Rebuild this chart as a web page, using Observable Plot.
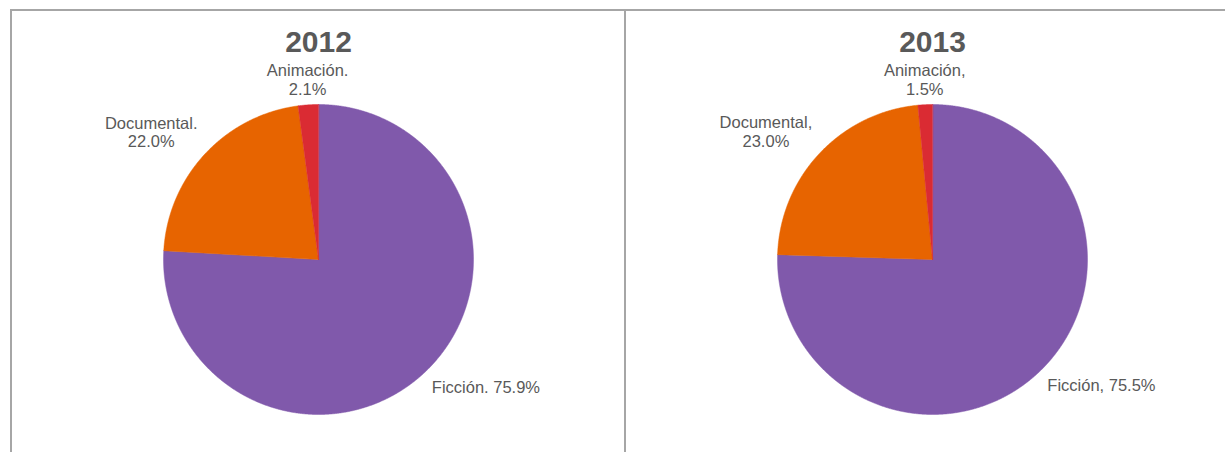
<!DOCTYPE html>
<html>
<head>
<meta charset="utf-8">
<script src="https://cdn.jsdelivr.net/npm/d3@7"></script>
<script src="https://cdn.jsdelivr.net/npm/@observablehq/plot@0.6"></script>
<style>
html, body { margin: 0; padding: 0; background: #fff; overflow: hidden; width: 1225px; height: 452px; }
#wrap { position: absolute; left: 10px; top: 9px; display: flex; border-top: 2px solid #a6a6a6; width: 1240px; height: 443px; }
.panel { width: 612px; height: 441px; border-left: 2px solid #a6a6a6; flex: none; }
.panel svg { display: block; }
</style>
</head>
<body>
<div id="wrap"></div>
<script>
// ---- data ----
const categories = ["Ficción", "Documental", "Animación"];
const years = ["2012", "2013"];
const values2012 = [75.9, 22.0, 2.1];
const values2013 = [75.5, 23.0, 1.5];
const separators2012 = ".";
const separators2013 = ",";
const colors = ["#8059ab", "#e76400", "#da2b33"];
const wrapLabel = [false, true, true];

// ---- layout ----
const W = 612, H = 441;
const CX = 306, CY = 248, R = 155, RL = 165;
const textColor = "#595959";
const font = "'Liberation Sans', Arial, sans-serif";
const labelSize = 16.5;

const ctx = document.createElement("canvas").getContext("2d");
ctx.font = `${labelSize}px ${font}`;
const textWidth = (t) => d3.max(t.split("\n"), l => ctx.measureText(l).width);

function panel(year, values, sep) {
  const rows = categories.map((c, i) => ({cat: c, value: values[i], wrap: wrapLabel[i]}));
  const arcs = d3.pie().sort(null).value(d => d.value)(rows);
  const pts = [];
  const labels = [];
  for (const a of arcs) {
    const c = a.data.cat;
    pts.push({cat: c, x: CX, y: CY});
    const steps = Math.max(2, Math.ceil((a.endAngle - a.startAngle) / (Math.PI / 720)));
    for (let k = 0; k <= steps; k++) {
      const t = a.startAngle + (a.endAngle - a.startAngle) * k / steps;
      pts.push({cat: c, x: CX + R * Math.sin(t), y: CY - R * Math.cos(t)});
    }
    const m = (a.startAngle + a.endAngle) / 2;
    const s = Math.sin(m), co = Math.cos(m);
    const text = `${c}${sep}${a.data.wrap ? "\n" : " "}${a.data.value.toFixed(1)}%`;
    const w = textWidth(text);
    const side = Math.abs(s) < 0.3 ? 0 : (s < 0 ? -1 : 1);
    labels.push({
      x: CX + RL * s + side * w / 2,
      y: CY - RL * co,
      text,
      la: co > 0 ? "bottom" : "top"
    });
  }
  const groups = d3.groups(labels, d => d.la);
  const textMarks = groups.map(([key, g]) => Plot.text(g, {
    x: "x", y: "y", text: "text",
    textAnchor: "middle", lineAnchor: key,
    fontSize: labelSize, lineHeight: 1.13, fill: textColor
  }));
  return Plot.plot({
    width: W, height: H, margin: 0,
    x: {type: "linear", domain: [0, W], range: [0, W], axis: null},
    y: {type: "linear", domain: [0, H], range: [0, H], axis: null},
    color: {domain: categories, range: colors},
    style: {background: "transparent", color: textColor, fontFamily: font, overflow: "visible"},
    marks: [
      Plot.line(pts, {x: "x", y: "y", z: "cat", fill: "cat", stroke: "cat", strokeWidth: 0.5, curve: "linear-closed"}),
      ...textMarks,
      Plot.text([year], {frameAnchor: "top", lineAnchor: "top", dy: 19, text: d => d,
        fontSize: 30, fontWeight: "bold", lineHeight: 1, fill: textColor})
    ]
  });
}

const wrap = document.getElementById("wrap");
const specs = [[years[0], values2012, separators2012], [years[1], values2013, separators2013]];
for (const [y, v, s] of specs) {
  const div = document.createElement("div");
  div.className = "panel";
  div.appendChild(panel(y, v, s));
  wrap.appendChild(div);
}
</script>
</body>
</html>
